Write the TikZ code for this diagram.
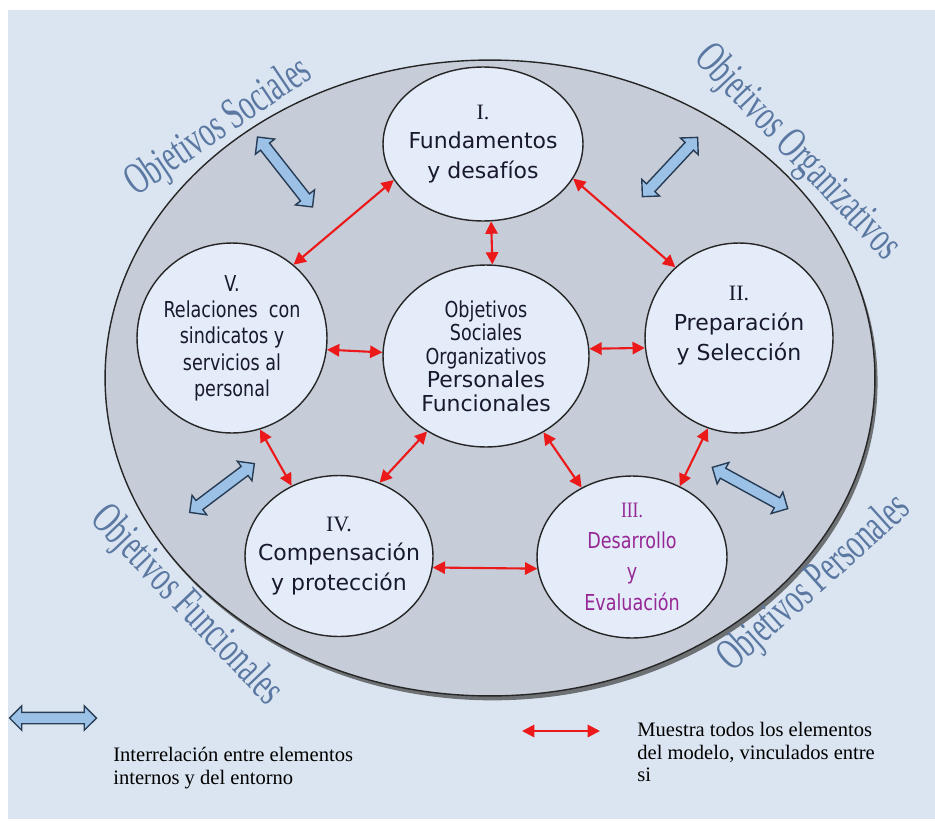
\documentclass[tikz,border=0pt]{standalone}
\usepackage{fontspec}
\setmainfont{Liberation Serif}
\setsansfont{DejaVu Sans}
\newfontfamily\narrowsans[FakeStretch=0.8]{DejaVu Sans}
\newfontfamily\narrowserif[FakeStretch=0.8]{Liberation Serif}
\newfontfamily\tallserif[FakeStretch=0.64]{Liberation Serif}
\usetikzlibrary{arrows.meta, shapes.geometric, shapes.arrows, shadows}

\definecolor{bgblue}{RGB}{219,229,241}
\definecolor{ringgrey}{RGB}{199,205,216}
\definecolor{nodefill}{RGB}{228,236,250}
\definecolor{nodetext}{RGB}{25,25,45}
\definecolor{linkred}{RGB}{235,25,25}
\definecolor{arrowfill}{RGB}{155,194,230}
\definecolor{arrowline}{RGB}{40,60,85}
\definecolor{titleblue}{RGB}{90,120,162}
\definecolor{devpurple}{RGB}{150,40,150}

\begin{document}
\begin{tikzpicture}
	[x=0.02cm, y=0.02cm, >={Triangle[length=7pt,width=7pt]},
	main node/.style={ellipse, draw=black!85, line width=0.8pt, fill=nodefill, inner sep=-1cm, align=center, text=nodetext, font=\sffamily\fontsize{12.5}{17}\selectfont},
	link/.style={<->, draw=linkred, fill=linkred, line width=1.2pt},
	dbl/.style={double arrow, draw=arrowline, fill=arrowfill, line width=0.8pt, inner xsep=0pt, inner ysep=0.1cm, minimum width=0.46cm, double arrow head extend=0.13cm},
	title/.style={inner sep=0pt, text=titleblue, font=\tallserif\fontsize{25.5}{26}\selectfont},
	legend/.style={inner sep=0pt, align=left, anchor=north west, font=\rmfamily\fontsize{11.7}{12.8}\selectfont}]
	\useasboundingbox (0,0) rectangle (935,-821);
	\fill[white] (0,0) rectangle (935,-821);
	\fill[bgblue] (8,-10) rectangle (935,-819);
	% outer ring
	\node (ring) [ellipse, draw=black!85, line width=0.8pt, fill=ringgrey, minimum width=15.4cm, minimum height=12.72cm, drop shadow={shadow xshift=1.5pt, shadow yshift=-2.5pt, fill=black!75, opacity=.7}] at (490,-378) {};
	% titles round the ring
	\node (socT) [title, rotate=34] at (219,-128) {Objetivos Sociales};
	\node (orgT) [title, rotate=-46.5] at (797,-153) {Objetivos Organizativos};
	\node (funT) [title, rotate=-46.3] at (186,-606) {Objetivos Funcionales};
	\node (perT) [title, rotate=42] at (815,-584) {Objetivos Personales};
	% the five areas and the centre
	\node (I) [main node, minimum width=4cm, minimum height=3.08cm] at (483,-144) {{\rmfamily I.}\\Fundamentos\\y desafíos};
	\node (C) [main node, minimum width=4.12cm, minimum height=3.64cm, font=\sffamily\fontsize{12.5}{13.4}\selectfont] at (486,-356) {{\narrowsans Objetivos}\\{\narrowsans Sociales}\\{\narrowsans Organizativos}\\Personales\\Funcionales};
	\node (V) [main node, minimum width=3.8cm, minimum height=3.8cm, font=\narrowsans\fontsize{12.5}{15}\selectfont] at (232,-338) {V.\\Relaciones\ \ con\\sindicatos y\\servicios al\\personal};
	\node (II) [main node, minimum width=3.76cm, minimum height=3.8cm] at (739,-338) {{\rmfamily II.}\\Preparación\\y Selección\\\mbox{}};
	\node (IV) [main node, minimum width=3.76cm, minimum height=3.22cm] at (339,-556) {{\rmfamily IV.}\\Compensación\\y protección};
	\node (III) [main node, minimum width=3.8cm, minimum height=3.24cm, text=devpurple, font=\narrowsans\fontsize{12.5}{17.5}\selectfont] at (632,-557) {{\narrowserif III.}\\Desarrollo\\y\\Evaluación};
	% links between the areas
	\draw[link] (I.202) -- (V.50);
	\draw[link] (I.339) -- (II.132);
	\draw[link] (I.276) -- (C.86);
	\draw[link] (V.353) -- (C.178);
	\draw[link] (C.4) -- (II.186);
	\draw[link] (V.287) -- (IV.124);
	\draw[link] (C.232) -- (IV.61);
	\draw[link] (C.307) -- (III.126);
	\draw[link] (II.251) -- (III.56);
	\draw[link] (IV.353) -- (III.187);
	% exchange with the outside
	\node (socA) [dbl, minimum height=1.78cm, rotate=-51.8] at (285,-172) {};
	\node (orgA) [dbl, minimum height=1.62cm, rotate=47] at (670,-167) {};
	\node (funA) [dbl, minimum height=1.62cm, rotate=37] at (222,-488) {};
	\node (perA) [dbl, minimum height=1.72cm, rotate=-28.7] at (750,-488) {};
	% legend
	\node (legBlue) [dbl, minimum height=1.74cm] at (53,-718) {};
	\node (legBlueTxt) [legend] at (113,-747) {Interrelación entre elementos\\internos y del entorno};
	\coordinate (legRedL) at (522,-731);
	\coordinate (legRedR) at (600,-731);
	\draw[link] (legRedL) -- (legRedR);
	\node (legRedTxt) [legend] at (637,-722) {Muestra todos los elementos\\del modelo, vinculados entre\\si};
\end{tikzpicture}
\end{document}
